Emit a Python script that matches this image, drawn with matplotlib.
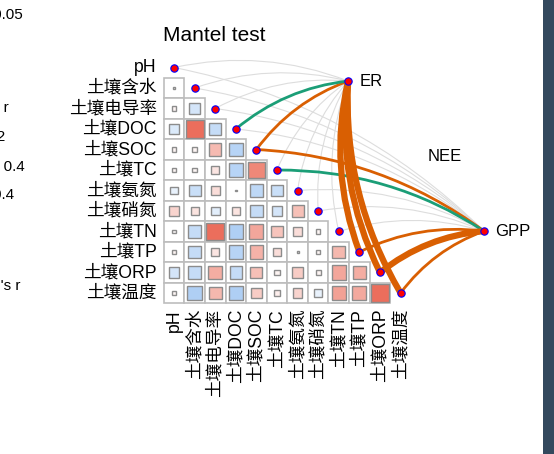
import numpy as np
import matplotlib
matplotlib.use("Agg")
import matplotlib.pyplot as plt
from matplotlib.patches import Rectangle, FancyArrowPatch
from matplotlib.colors import LinearSegmentedColormap

plt.rcParams['font.family'] = ['Liberation Sans', 'Noto Sans CJK SC', 'DejaVu Sans']

# 环境因子
env_vars = ['pH', '土壤含水', '土壤电导率', '土壤DOC', '土壤SOC', '土壤TC',
            '土壤氨氮', '土壤硝氮', '土壤TN', '土壤TP', '土壤ORP', '土壤温度']

# 下三角相关系数 (第 i 行 只有前 i 个值)
corr_rows = [
    [],
    [0.01],
    [0.06, -0.30],
    [-0.25, 0.85, -0.40],
    [0.06, 0.06, 0.40, -0.50],
    [0.05, 0.05, 0.15, -0.50, 0.70],
    [-0.15, -0.37, 0.20, 0.01, -0.45, -0.37],
    [0.25, 0.16, -0.20, 0.16, -0.40, -0.30, 0.37],
    [0.03, -0.40, 0.85, -0.55, 0.52, 0.35, 0.20, 0.05],
    [0.06, -0.40, 0.15, -0.50, 0.45, 0.20, 0.01, 0.05, 0.42],
    [-0.30, -0.40, 0.48, -0.40, 0.37, 0.07, 0.30, 0.07, 0.52, 0.48],
    [0.05, -0.55, 0.42, -0.55, 0.30, 0.10, 0.25, -0.15, 0.55, 0.50, 0.85],
]

# Mantel test 结果
spec_names = ['ER', 'NEE', 'GPP']
mantel_r_er = [0.10, 0.05, 0.10, 0.30, 0.25, 0.10, 0.08, 0.10, 0.12, 0.45, 0.55, 0.50]
mantel_p_er = [0.50, 0.60, 0.40, 0.03, 0.008, 0.30, 0.50, 0.40, 0.20, 0.001, 0.001, 0.001]
mantel_r_gpp = [0.08, 0.06, 0.10, 0.10, 0.22, 0.28, 0.10, 0.10, 0.15, 0.30, 0.45, 0.32]
mantel_p_gpp = [0.60, 0.70, 0.40, 0.30, 0.009, 0.02, 0.50, 0.40, 0.20, 0.002, 0.001, 0.003]

# 图例文字 (左侧被裁掉的部分)
legend_texts = ['< 0.05', "Mantel's r", '< 0.2', '0.2 - 0.4', '>= 0.4', "Pearson's r"]


def width_of(r):
    if r < 0.2:
        return 0.8
    elif r < 0.4:
        return 2.0
    return 4.5


def color_of(p):
    if p < 0.01:
        return '#D95F02'
    elif p < 0.05:
        return '#1B9E77'
    return '#DDDDDD'


cmap = LinearSegmentedColormap.from_list('rb', ['#6fa8ec', '#ffffff', '#e8553f'])

fig = plt.figure(figsize=(5.54, 4.54), dpi=100)
ax = fig.add_axes([0, 0, 1, 1])
ax.set_xlim(-8.447, 18.447)
ax.set_ylim(18.854, -3.293)
ax.axis('off')

n = len(env_vars)
# 相关性热图
for i in range(1, n):
    for j, r in enumerate(corr_rows[i]):
        ax.add_patch(Rectangle((j - 0.5, i - 0.5), 1, 1, facecolor='white',
                               edgecolor='#bdbdbd', lw=1.2, zorder=1))
        s = 0.95 * np.sqrt(abs(r))
        ax.add_patch(Rectangle((j - s / 2, i - s / 2), s, s,
                               facecolor=cmap((r + 1) / 2),
                               edgecolor='#8c8c8c', lw=1.0, zorder=2))

# 标签
for i, name in enumerate(env_vars):
    ax.text(-0.83, i, name, ha='right', va='center', fontsize=12.7)
    ax.text(i, 11.78, name, ha='center', va='top', rotation=90, fontsize=12.7)

ax.text(-0.53, -1.54, 'Mantel test', ha='left', va='center', fontsize=15)

# 节点
spec_pos = {'ER': (8.45, 0.66), 'NEE': (11.75, 4.32), 'GPP': (15.05, 7.98)}
for name in spec_names:
    x, y = spec_pos[name]
    ax.text(x + 0.55, y, name, ha='left', va='center', fontsize=12)

links = []
for k in range(n):
    links.append(('ER', k, mantel_r_er[k], mantel_p_er[k]))
    links.append(('GPP', k, mantel_r_gpp[k], mantel_p_gpp[k]))
# 灰线先画
links.sort(key=lambda l: (l[3] < 0.05, l[2]))
for spec, k, r, p in links:
    c = color_of(p)
    arr = FancyArrowPatch(spec_pos[spec], (k, k), arrowstyle='-',
                          connectionstyle='arc3,rad=0.15', shrinkA=0, shrinkB=0,
                          color=c, lw=width_of(r) if p < 0.05 else 0.8,
                          zorder=3 if p >= 0.05 else 4)
    ax.add_patch(arr)

ax.scatter(range(n), range(n), s=28, c='red', edgecolors='blue', linewidths=0.8, zorder=6)
ax.scatter([spec_pos['ER'][0], spec_pos['GPP'][0]], [spec_pos['ER'][1], spec_pos['GPP'][1]],
           s=28, c='red', edgecolors='blue', linewidths=0.8, zorder=6)

# 左侧图例 (只露出一部分)
legend_y = [15, 108, 137, 167, 195, 286]
legend_x = [23, 9, 5, 25, 14, 20]
for t, xp, yp in zip(legend_texts, legend_x, legend_y):
    fig.text(xp / 554, 1 - yp / 454, t, ha='right', va='center', fontsize=11)

# 右边深色条
fig.patches.append(Rectangle((543 / 554, 0), 11 / 554, 1, transform=fig.transFigure,
                             facecolor='#34495e', edgecolor='none', zorder=10))

fig.savefig('out.png', dpi=100)
